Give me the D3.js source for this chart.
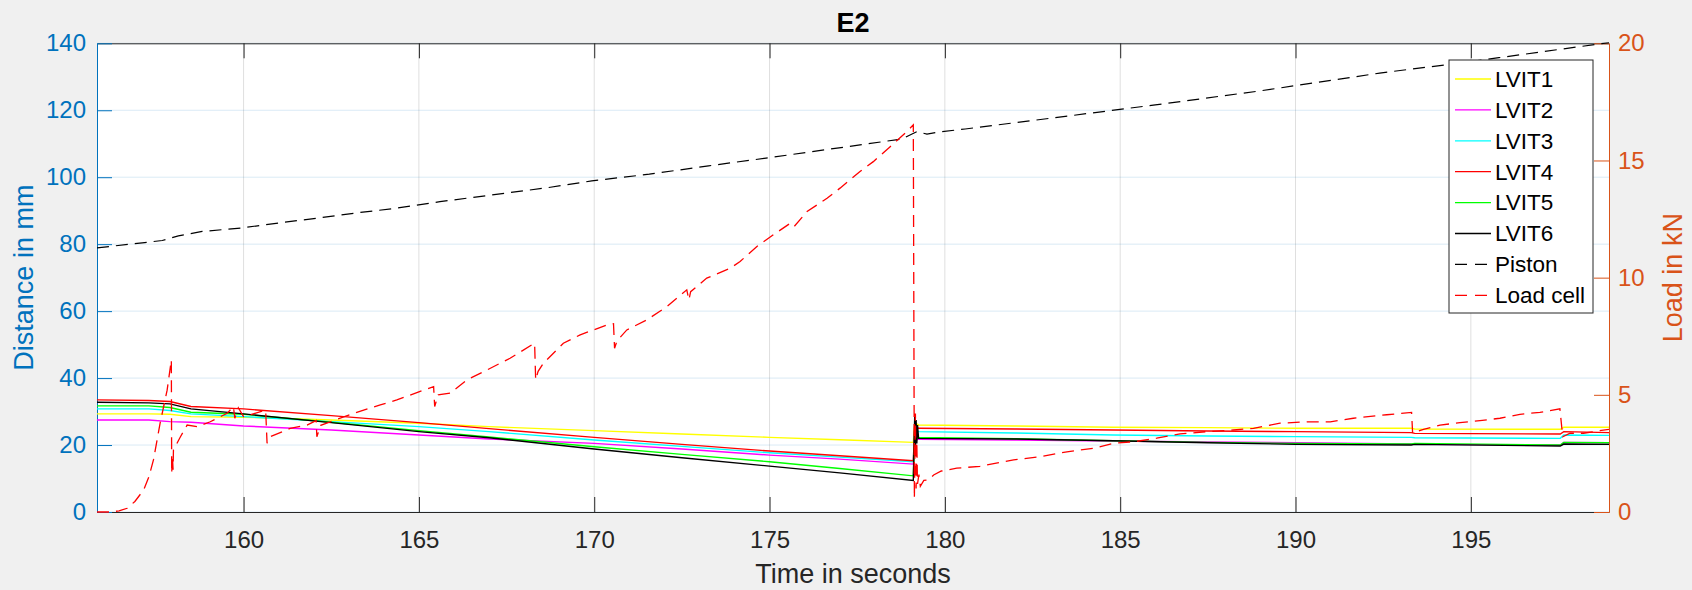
<!DOCTYPE html>
<html><head><meta charset="utf-8">
<script src="https://cdn.jsdelivr.net/npm/d3@7"></script>
<style>body{margin:0;background:#f0f0f0;} svg{display:block;font-family:"Liberation Sans",Arial,sans-serif;}</style>
</head><body><svg id="c" width="1692" height="590"></svg>
<script>
// ---------- DATA ----------
const xTicks = [160,165,170,175,180,185,190,195];
const leftTicks = [0,20,40,60,80,100,120,140];
const rightTicks = [0,5,10,15,20];
const seriesNames = ["LVIT1","LVIT2","LVIT3","LVIT4","LVIT5","LVIT6","Piston","Load cell"];

const lvitTime = [155.82,157.3,157.9,158.5,160,162.5,165,167,170,172.5,175,177,179.1,179.14,179.16,179.18,179.2,179.22,179.25,182,184.8,187.5,190,193.3,193.4,197.55,197.65,198.94];
const lvit1 = [29.3,29.3,29.2,28.5,28.3,27.5,26.5,25.5,24.3,23.3,22.3,21.6,20.8,26.6,25.4,26.4,25.7,26.2,26.0,25.7,25.3,25.2,25.0,25.0,24.8,24.7,25.3,25.3];
const lvit2 = [27.5,27.5,27.0,26.8,25.7,24.5,23.0,21.8,20.5,18.8,17.0,15.8,14.3,22.0,21.3,22.1,21.5,21.9,21.7,21.5,21.2,20.9,20.7,20.3,20.2,20.0,20.8,20.7];
const lvit3 = [30.8,30.8,30.3,29.3,28.5,27.0,25.5,24.0,21.5,19.6,17.7,16.4,15.0,24.6,23.5,24.4,23.8,24.2,24.0,23.6,23.0,22.7,22.5,22.3,22.2,22.0,23.0,22.9];
const lvit4 = [33.5,33.3,33.0,31.5,30.8,28.8,26.7,24.9,22.3,20.2,18.2,16.8,15.3,25.8,24.6,25.5,24.8,25.2,25.0,24.8,24.5,24.2,24.0,23.7,23.5,23.3,24.0,23.7];
const lvit5 = [31.7,31.7,31.2,29.8,29.2,26.8,24.3,22.4,19.5,17.2,15.0,13.0,10.8,23.0,21.5,22.8,21.9,22.5,22.3,21.9,21.3,20.8,20.5,20.3,20.5,20.0,20.8,20.7];
const lvit6 = [32.8,32.6,32.3,30.8,29.3,26.7,24.0,22.2,18.8,16.2,13.7,11.7,9.4,28.4,19.5,27.5,20.5,26.0,22.0,21.8,21.3,20.7,20.2,20.0,20.2,19.7,20.3,20.2];

const pistonTime = [155.82,157.11,157.68,158.14,158.82,159.91,161.05,162.13,163.19,164.33,165.6,167.09,168.75,169.93,171.57,173.26,174.9,176.59,178.22,178.77,179.2,179.49,179.82,180.58,183,186,189,192.4,194.3,195.8,198.94];
const pistonMM = [78.9,80.4,81.1,82.5,83.8,84.8,86.4,87.8,89.3,90.7,92.7,94.7,97.0,98.9,100.9,103.4,105.7,108.2,110.6,111.4,113.6,112.9,113.5,114.4,117.6,121.6,125.8,131.1,133.6,135.7,140.2];

const loadTime = [155.82,156.2,156.45,156.68,156.9,157.15,157.3,157.43,157.62,157.82,157.94,157.95,157.97,157.99,158.0,158.2,158.39,158.67,159.05,159.53,159.71,159.75,159.85,160.0,160.3,160.63,160.67,160.76,161.33,161.81,162.07,162.09,162.2,162.47,163.14,163.9,164.37,165.13,165.42,165.45,165.55,165.89,166.37,166.94,167.6,168.22,168.3,168.33,168.4,168.55,169.12,169.6,169.98,170.36,170.55,170.58,170.65,170.93,171.5,172.07,172.64,172.7,172.75,173.21,173.88,174.16,174.64,175.11,175.59,175.7,176.07,176.64,177.01,177.58,177.96,178.44,178.92,179.1,179.13,179.16,179.18,179.2,179.22,179.26,179.3,179.4,179.53,179.68,179.9,180.34,181.0,181.96,182.72,183.48,184.24,184.81,185.4,186.04,186.71,187.47,188.23,188.8,189.56,190.32,190.99,191.65,192.6,193.31,193.34,193.65,194.12,194.69,195.26,195.83,196.4,196.97,197.54,197.62,197.83,198.21,198.94];
const loadKN = [0,0,0.05,0.16,0.45,0.94,1.5,2.22,3.79,5.2,6.49,1.65,2.4,1.8,2.65,3.21,3.71,3.64,3.85,4.21,4.5,4.0,4.45,4.07,4.2,4.35,2.93,3.21,3.57,3.71,3.9,3.21,3.7,3.85,4.21,4.57,4.78,5.2,5.35,4.5,5.0,5.07,5.64,6.06,6.56,7.13,7.2,5.64,6.0,6.35,7.2,7.56,7.77,7.98,8.03,6.99,7.3,7.77,8.2,8.76,9.48,9.05,9.4,9.98,10.4,10.69,11.33,11.83,12.32,12.18,12.82,13.39,13.82,14.53,14.95,15.59,16.24,16.52,0.58,4.2,1.0,3.0,1.2,1.6,1.1,1.35,1.37,1.58,1.75,1.87,1.95,2.22,2.36,2.57,2.72,2.93,3.0,3.15,3.33,3.43,3.5,3.57,3.79,3.85,3.85,4.0,4.15,4.25,3.36,3.53,3.71,3.81,3.9,4.0,4.17,4.25,4.4,3.21,3.36,3.36,3.53];

// ---------- LAYOUT ----------
const W = 1692, H = 590;
const m = {l:97, r:1609, t:43.3, b:512};
const blue = "#0072BD", orange = "#D95319", dark = "#262626";
const lvitColors = ["#ffff00","#ff00ff","#00ffff","#ff0000","#00ff00","#000000"];
const svg = d3.select("#c");
svg.append("rect").attr("width",W).attr("height",H).attr("fill","#f0f0f0");
svg.append("rect").attr("x",m.l).attr("y",m.t).attr("width",m.r-m.l).attr("height",m.b-m.t).attr("fill","#fff");

const x = d3.scaleLinear().domain([155.82,198.94]).range([m.l,m.r]);
const yL = d3.scaleLinear().domain([0,140]).range([m.b,m.t]);
const yR = d3.scaleLinear().domain([0,20]).range([m.b,m.t]);

// grid
svg.append("g").selectAll("line").data(xTicks).join("line")
  .attr("x1",d=>x(d)).attr("x2",d=>x(d)).attr("y1",m.t).attr("y2",m.b)
  .attr("stroke",dark).attr("stroke-opacity",0.15).attr("stroke-width",1);
svg.append("g").selectAll("line").data(leftTicks).join("line")
  .attr("x1",m.l).attr("x2",m.r).attr("y1",d=>yL(d)).attr("y2",d=>yL(d))
  .attr("stroke",blue).attr("stroke-opacity",0.15).attr("stroke-width",1);

function styleAxis(g,color){
  g.selectAll("path.domain").attr("stroke",color).attr("stroke-width",1);
  g.selectAll(".tick line").attr("stroke",color).attr("stroke-width",1);
  g.selectAll(".tick text").attr("fill",color).attr("font-size",24)
   .attr("font-family",'"Liberation Sans",Arial,sans-serif');
}
const gxb = svg.append("g").attr("transform",`translate(0,${m.b})`)
  .call(d3.axisBottom(x).tickValues(xTicks).tickSizeInner(-15).tickSizeOuter(0).tickPadding(19));
styleAxis(gxb,dark);
const gxt = svg.append("g").attr("transform",`translate(0,${m.t})`)
  .call(d3.axisTop(x).tickValues(xTicks).tickSizeInner(-15).tickSizeOuter(0).tickFormat(()=>""));
styleAxis(gxt,dark);
const gyl = svg.append("g").attr("transform",`translate(${m.l},0)`)
  .call(d3.axisLeft(yL).tickValues(leftTicks).tickSizeInner(-15).tickSizeOuter(0).tickPadding(11));
styleAxis(gyl,blue);
const gyr = svg.append("g").attr("transform",`translate(${m.r},0)`)
  .call(d3.axisRight(yR).tickValues(rightTicks).tickSizeInner(-15).tickSizeOuter(0).tickPadding(9));
styleAxis(gyr,orange);

// clip
svg.append("clipPath").attr("id","clip").append("rect")
  .attr("x",m.l).attr("y",m.t-1).attr("width",m.r-m.l).attr("height",m.b-m.t+2);
const plot = svg.append("g").attr("clip-path","url(#clip)");

const lvits = [lvit1,lvit2,lvit3,lvit4,lvit5,lvit6];
const lineL = d3.line().x(d=>x(d[0])).y(d=>yL(d[1]));
const lineR = d3.line().x(d=>x(d[0])).y(d=>yR(d[1]));
lvits.forEach((vals,i)=>{
  plot.append("path").datum(d3.zip(lvitTime,vals)).attr("d",lineL)
    .attr("fill","none").attr("stroke",lvitColors[i]).attr("stroke-width",1.4);
});
plot.append("path").datum(d3.zip(pistonTime,pistonMM)).attr("d",lineL)
  .attr("fill","none").attr("stroke","#000").attr("stroke-width",1.2).attr("stroke-dasharray","12,7");
plot.append("path").datum(d3.zip(loadTime,loadKN)).attr("d",lineR)
  .attr("fill","none").attr("stroke","#ff0000").attr("stroke-width",1.3).attr("stroke-dasharray","12,7");

// texts
svg.append("text").attr("x",(m.l+m.r)/2).attr("y",32).attr("text-anchor","middle")
  .attr("font-size",27).attr("font-weight","bold").attr("fill","#000").text("E2");
svg.append("text").attr("x",(m.l+m.r)/2).attr("y",583).attr("text-anchor","middle")
  .attr("font-size",27).attr("fill",dark).text("Time in seconds");
svg.append("text").attr("transform",`translate(33,${(m.t+m.b)/2}) rotate(-90)`).attr("text-anchor","middle")
  .attr("font-size",27).attr("fill",blue).text("Distance in mm");
svg.append("text").attr("transform",`translate(1682,${(m.t+m.b)/2}) rotate(-90)`).attr("text-anchor","middle")
  .attr("font-size",27).attr("fill",orange).text("Load in kN");

// legend
const lg = svg.append("g");
lg.append("rect").attr("x",1449).attr("y",60).attr("width",144).attr("height",253)
  .attr("fill","#fff").attr("stroke",dark).attr("stroke-width",1);
const legColors = lvitColors.concat(["#000","#ff0000"]);
seriesNames.forEach((name,i)=>{
  const cy = 79 + i*30.9;
  lg.append("line").attr("x1",1455).attr("x2",1491).attr("y1",cy).attr("y2",cy)
    .attr("stroke",legColors[i]).attr("stroke-width",1.3)
    .attr("stroke-dasharray", i>=6 ? "12,8" : null);
  lg.append("text").attr("x",1495).attr("y",cy).attr("dy","0.35em")
    .attr("font-size",22.5).attr("fill","#000").text(name);
});
</script></body></html>
